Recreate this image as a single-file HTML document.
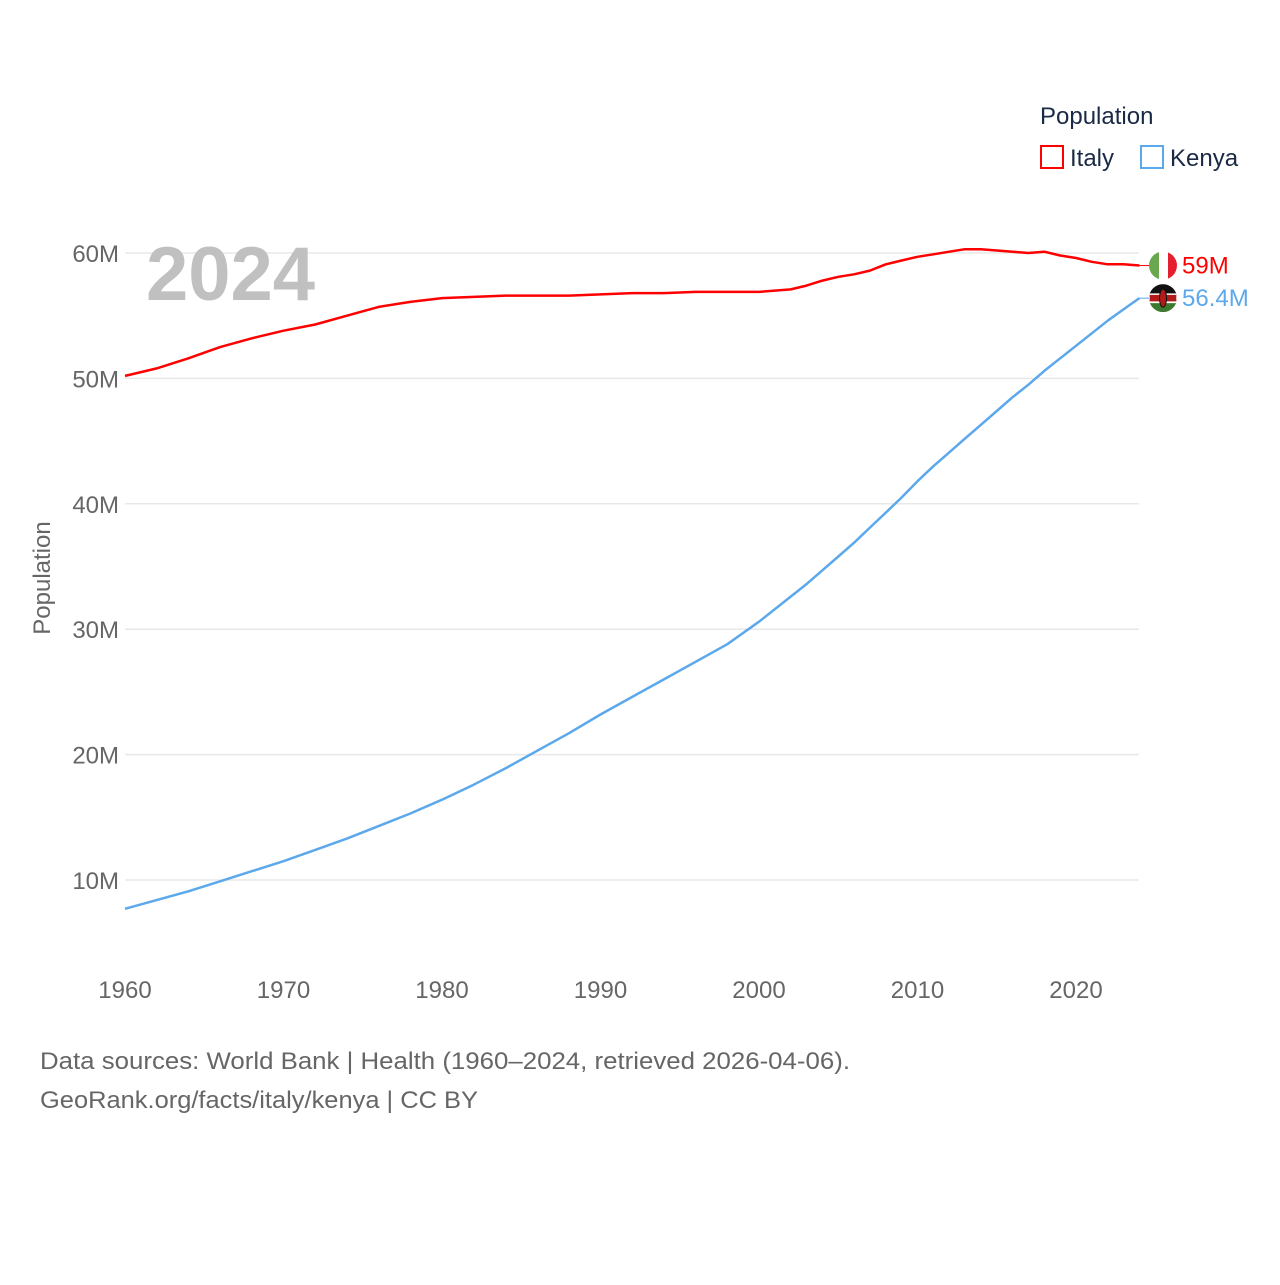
<!DOCTYPE html>
<html><head><meta charset="utf-8"><style>
body{margin:0;background:#fff;font-family:"Liberation Sans",sans-serif;}
svg text{font-family:"Liberation Sans",sans-serif;}
</style></head><body>
<svg id="chart" width="1280" height="1280" viewBox="0 0 1280 1280">
<g id="grid"></g>
<g id="yt"></g>
<g id="xt"></g>
<text x="146" y="300" font-size="76" font-weight="bold" fill="#c0c0c0">2024</text>
<text x="50" y="578" font-size="24" fill="#666" text-anchor="middle" transform="rotate(-90 50 578)">Population</text>
<g id="lines"></g>
<g>
<text x="1040" y="124" font-size="24" fill="#1a2a44">Population</text>
<g><rect x="1041" y="146" width="22" height="22" fill="none" stroke="#f00" stroke-width="2"/><text x="1070" y="166" font-size="24" fill="#1a2a44">Italy</text></g>
<g><rect x="1141" y="146" width="22" height="22" fill="none" stroke="#5ca8ec" stroke-width="2"/><text x="1170" y="166" font-size="24" fill="#1a2a44">Kenya</text></g>
</g>
<g id="ends"></g>
<text x="40" y="1069" font-size="24" fill="#666" textLength="810" lengthAdjust="spacingAndGlyphs">Data sources: World Bank | Health (1960–2024, retrieved 2026-04-06).</text>
<text x="40" y="1108" font-size="24" fill="#666" textLength="438" lengthAdjust="spacingAndGlyphs">GeoRank.org/facts/italy/kenya | CC BY</text>
</svg>
<script>
const years=[1960,1962,1964,1966,1968,1970,1972,1974,1976,1978,1980,1982,1984,1986,1988,1990,1992,1994,1996,1998,2000,2002,2003,2004,2005,2006,2007,2008,2009,2010,2011,2012,2013,2014,2015,2016,2017,2018,2019,2020,2021,2022,2023,2024];
const italy=[50.2,50.8,51.6,52.5,53.2,53.8,54.3,55.0,55.7,56.1,56.4,56.5,56.6,56.6,56.6,56.7,56.8,56.8,56.9,56.9,56.9,57.1,57.4,57.8,58.1,58.3,58.6,59.1,59.4,59.7,59.9,60.1,60.3,60.3,60.2,60.1,60.0,60.1,59.8,59.6,59.3,59.1,59.1,59.0];
const kenya=[7.7,8.4,9.1,9.9,10.7,11.5,12.4,13.3,14.3,15.3,16.4,17.6,18.9,20.3,21.7,23.2,24.6,26.0,27.4,28.8,30.6,32.6,33.6,34.7,35.8,36.9,38.1,39.3,40.5,41.8,43.0,44.1,45.2,46.3,47.4,48.5,49.5,50.6,51.6,52.6,53.6,54.6,55.5,56.4];
const yTicks=[10,20,30,40,50,60];
const xTicks=[1960,1970,1980,1990,2000,2010,2020];
const ns="http://www.w3.org/2000/svg";
const X=y=>125+(y-1960)*(951/60);
const Y=v=>1005.4-v*12.54;
function mk(tag,attrs,parent,txt){const e=document.createElementNS(ns,tag);for(const k in attrs)e.setAttribute(k,attrs[k]);if(txt!==undefined)e.textContent=txt;parent.appendChild(e);return e;}
const grid=document.getElementById('grid'),yt=document.getElementById('yt'),xt=document.getElementById('xt'),lines=document.getElementById('lines'),ends=document.getElementById('ends');
yTicks.forEach(t=>{
 const l=mk('line',{x1:125,x2:1139,y1:Y(t*1),y2:Y(t*1),stroke:'#e8e8e8','stroke-width':1.5},grid);
 
 
 const tx=mk('text',{x:119,y:Y(t)+9,'font-size':24,fill:'#666','text-anchor':'end'},yt,t+'M');
 
 
});
xTicks.forEach(t=>{
 const tx=mk('text',{x:X(t),y:998,'font-size':24,fill:'#666','text-anchor':'middle'},xt,String(t));
 
 
});
function path(vals){return vals.map((v,i)=>(i?'L':'M')+X(years[i]).toFixed(1)+' '+Y(v).toFixed(1)).join(' ');}
const pi=mk('path',{d:path(italy),fill:'none',stroke:'#f00','stroke-width':2.5,'stroke-linejoin':'round'},lines);


const pk=mk('path',{d:path(kenya),fill:'none',stroke:'#5ca8ec','stroke-width':2.5,'stroke-linejoin':'round'},lines);


const lx=X(years[years.length-1]);
const iy=Y(italy[italy.length-1]),ky=Y(kenya[kenya.length-1]);
const fi=mk('g',{},ends);


mk('clipPath',{id:'ci'},fi);mk('circle',{cx:1163,cy:iy,r:14},fi.lastChild);
const gi=mk('g',{'clip-path':'url(#ci)'},fi);
mk('rect',{x:1149,y:iy-14,width:10,height:28,fill:'#6aa84f'},gi);
mk('rect',{x:1159,y:iy-14,width:9,height:28,fill:'#fff'},gi);
mk('rect',{x:1168,y:iy-14,width:10,height:28,fill:'#e5202e'},gi);
mk('line',{x1:lx,x2:1149,y1:iy,y2:iy,stroke:'#f00','stroke-width':1},ends);
const ti=mk('text',{x:1182,y:iy+8,'font-size':24,fill:'#f00'},ends,italy[italy.length-1]+'M');


const fk=mk('g',{},ends);


mk('clipPath',{id:'ck'},fk);mk('circle',{cx:1163,cy:ky,r:14},fk.lastChild);
const gk=mk('g',{'clip-path':'url(#ck)'},fk);
mk('rect',{x:1149,y:ky-14,width:28,height:10,fill:'#111'},gk);
mk('rect',{x:1149,y:ky-4,width:28,height:8,fill:'#b31b1b',stroke:'#fff','stroke-width':1.5},gk);
mk('rect',{x:1149,y:ky+5,width:28,height:9,fill:'#3d7a2e'},gk);
mk('ellipse',{cx:1163,cy:ky,rx:3.5,ry:9,fill:'#b31b1b',stroke:'#111','stroke-width':1},gk);
mk('line',{x1:lx,x2:1149,y1:ky,y2:ky,stroke:'#5ca8ec','stroke-width':1},ends);
const tk=mk('text',{x:1182,y:ky+8,'font-size':24,fill:'#5ca8ec'},ends,kenya[kenya.length-1]+'M');


</script>
</body></html>
